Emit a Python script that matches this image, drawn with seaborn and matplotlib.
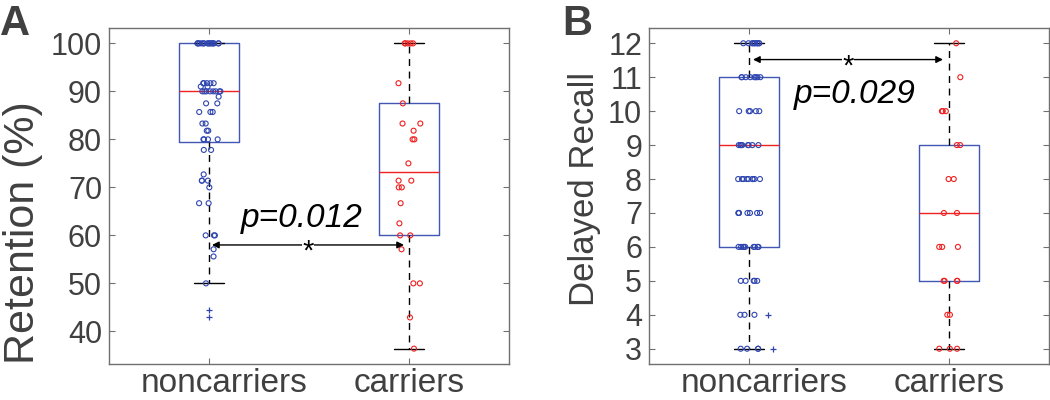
import numpy as np
import pandas as pd
import matplotlib
matplotlib.use("Agg")
import matplotlib.pyplot as plt
from matplotlib.transforms import ScaledTranslation
import seaborn as sns

# ---- data ----
groups = ["noncarriers", "carriers"]

# panel A: retention (%)
ret_noncarriers = ([100] * 17 + [91.7] * 5 + [91.0] * 2 + [90] * 8 + [88.9] + [87.5] * 2
                   + [85.7] * 3 + [83.3] * 2 + [81.8] * 2 + [80] * 4 + [77.8] * 2 + [72.7]
                   + [71.4] * 3 + [70] + [66.7] * 2 + [60] * 3 + [57.1] + [55.6] + [50])
ret_carriers = ([100] * 5 + [91.7, 87.5] + [83.3] * 2 + [81.8] + [80] * 2 + [75] + [71.4] * 2
                + [70] * 2 + [66.7, 62.5] + [60] * 2 + [57.1] + [50] * 2 + [42.9, 36.4])
ret_outliers = [44.4, 42.9]
# box stats: whisker low, q1, median, q3, whisker high
ret_box_noncarriers = [50, 79.4, 90, 100, 100]
ret_box_carriers = [36.4, 60, 73.2, 87.5, 100]
ret_ticks = [40, 50, 60, 70, 80, 90, 100]

# panel B: delayed recall
rec_noncarriers = ([12] * 10 + [11] * 8 + [10] * 5 + [9] * 8 + [8] * 9 + [7] * 7 + [6] * 9
                   + [5] * 5 + [4] * 3 + [3] * 4)
rec_carriers = [12, 11] + [10] * 3 + [9] * 2 + [8] * 2 + [7] * 2 + [6] * 3 + [5] * 4 + [4] * 2 + [3] * 3
rec_outliers = [4, 3]
rec_box_noncarriers = [3, 6, 9, 11, 12]
rec_box_carriers = [3, 5, 7, 9, 12]
rec_ticks = list(range(3, 13))

BLUE = "#2f46b0"
BOX_BLUE = "#4256b4"
RED = "#f02020"
TXT = "#404040"

sns.set_style("ticks")
plt.rcParams["font.family"] = ["Liberation Sans", "DejaVu Sans"]
plt.rcParams["text.color"] = TXT
plt.rcParams["axes.labelcolor"] = TXT
plt.rcParams["xtick.color"] = "#707070"
plt.rcParams["ytick.color"] = "#707070"
plt.rcParams["xtick.labelcolor"] = TXT
plt.rcParams["ytick.labelcolor"] = TXT

np.random.seed(3)


def box_stats(vals, label):
    lo, q1, med, q3, hi = vals
    return dict(label=label, whislo=lo, q1=q1, med=med, q3=q3, whishi=hi, fliers=[])


def draw_panel(ax, non_vals, car_vals, box_non, box_car, ylabel, ticks, ylim,
               ylabel_size, label_xy):
    df = pd.DataFrame({
        "group": [groups[0]] * len(non_vals) + [groups[1]] * len(car_vals),
        "value": non_vals + car_vals,
    })
    for g, col in zip(groups, [BLUE, RED]):
        sns.stripplot(data=df[df["group"] == g], x="group", y="value", order=groups,
                      jitter=0.06, size=3.6, color=col, facecolor="none",
                      edgecolor=col, linewidth=0.8, ax=ax, zorder=4)
    ax.bxp([box_stats(box_non, groups[0]), box_stats(box_car, groups[1])],
           positions=[0, 1], widths=0.3, capwidths=0.15, showfliers=False,
           manage_ticks=False,
           boxprops=dict(color=BOX_BLUE, linewidth=1.0),
           whiskerprops=dict(color="black", linestyle=(0, (5, 4)), linewidth=1.0),
           capprops=dict(color="black", linewidth=1.0),
           medianprops=dict(color=RED, linewidth=1.0))
    ax.set_xlim(-0.5, 1.5)
    ax.set_ylim(*ylim)
    ax.set_xticks([0, 1])
    ax.set_xticklabels(groups, fontsize=24)
    ax.set_yticks(ticks)
    ax.tick_params(axis="y", labelsize=22, pad=5)
    ax.tick_params(axis="x", pad=3)
    ax.tick_params(direction="in", length=4, width=0.8, top=True, right=True)
    # the first category label sits a little right of its tick in the original
    lab0 = ax.get_xticklabels()[0]
    lab0.set_transform(lab0.get_transform() + ScaledTranslation(0.15, 0, fig.dpi_scale_trans))
    ax.set_xlabel("")
    ax.set_ylabel(ylabel, fontsize=ylabel_size)
    ax.yaxis.set_label_coords(*label_xy)
    for sp in ax.spines.values():
        sp.set_visible(True)
        sp.set_color("#707070")
        sp.set_linewidth(1.0)


def bracket(ax, x0, x1, y, text_x, text_y, ptext):
    ax.annotate("", xy=(x0, y), xytext=(x1, y),
                arrowprops=dict(arrowstyle="<|-|>", color="black", lw=1.0,
                                mutation_scale=10, shrinkA=0, shrinkB=0), zorder=6)
    ax.annotate("*", xy=((x0 + x1) / 2, y), xytext=(0, -5), textcoords="offset points",
                ha="center", va="center", fontsize=21, color="black",
                bbox=dict(facecolor="white", edgecolor="none", pad=0.5), zorder=7)
    ax.text(text_x, text_y, ptext, ha="center", va="baseline", fontsize=24,
            style="italic", color="black", zorder=7)


fig = plt.figure(figsize=(10.5, 4), dpi=100)
axA = fig.add_axes([109 / 1050, 36 / 400, 400 / 1050, 336 / 400])
axB = fig.add_axes([649 / 1050, 36 / 400, 400 / 1050, 336 / 400])

draw_panel(axA, ret_noncarriers, ret_carriers, ret_box_noncarriers, ret_box_carriers,
           "Retention (%)", ret_ticks, (33.2, 103.2), 31, (-0.165, 0.39))
axA.plot([0] * len(ret_outliers), ret_outliers, linestyle="none", marker="+",
         color=BLUE, markersize=4, markeredgewidth=0.9, zorder=4)
bracket(axA, 0.015, 0.975, 58.0, 0.465, 61.7, "p=0.012")

draw_panel(axB, rec_noncarriers, rec_carriers, rec_box_noncarriers, rec_box_carriers,
           "Delayed Recall", rec_ticks, (2.55, 12.45), 25, (-0.12, 0.52))
axB.plot([0.095, 0.12], rec_outliers, linestyle="none", marker="+",
         color=BLUE, markersize=4, markeredgewidth=0.9, zorder=4)
bracket(axB, 0.02, 0.97, 11.52, 0.53, 10.24, "p=0.029")

fig.text(0.0, 0.99, "A", fontsize=30, fontweight="bold", color=TXT, va="top", ha="left")
fig.text(562 / 1050, 0.99, "B", fontsize=30, fontweight="bold", color=TXT, va="top", ha="left")

fig.savefig("out.png", dpi=100)
